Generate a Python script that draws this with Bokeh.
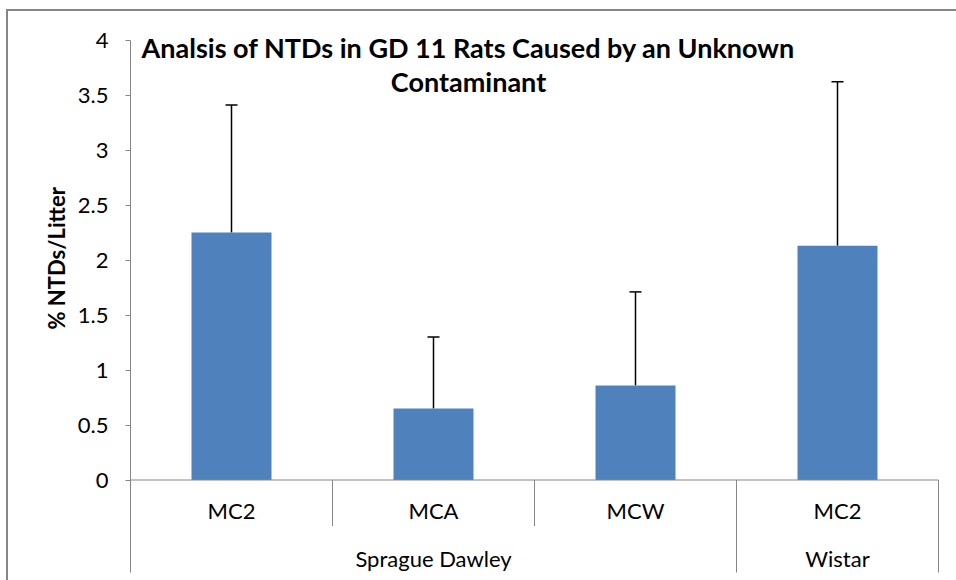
import math
from bokeh.plotting import figure
from bokeh.models import (Range1d, FixedTicker, Whisker, TeeHead, ColumnDataSource,
                          Label, Title)
from bokeh.core.properties import value
from bokeh.embed import file_html
from bokeh.resources import INLINE

# ---- data ----
strains = ["Sprague Dawley", "Sprague Dawley", "Sprague Dawley", "Wistar"]
groups = ["MC2", "MCA", "MCW", "MC2"]
means = [2.25, 0.65, 0.86, 2.13]
upper = [3.41, 1.30, 1.71, 3.62]
yticks = [0, 0.5, 1, 1.5, 2, 2.5, 3, 3.5, 4]
ytick_labels = ["0", "0.5", "1", "1.5", "2", "2.5", "3", "3.5", "4"]
title_lines = ["Analsis of NTDs in GD 11 Rats Caused by an Unknown", "Contaminant"]
y_label = "% NTDs/Litter"

# ---- layout constants ----
FONT = "Lato"
BAR = "#4F81BD"
GRAY = "#868686"
PX_PER_UNIT = 110.0          # vertical pixels per y unit
CAT_PX = 202.0               # horizontal pixels per category
W, H = 956, 580
LEFT, RIGHT, TOP, BOTTOM = 130, 16, 36, 8
FRAME_W, FRAME_H = W - LEFT - RIGHT, H - TOP - BOTTOM
ZERO_FROM_TOP = 443.5        # pixels from frame top to y = 0

n = len(groups)
xs = [i + 0.5 for i in range(n)]
y_top = ZERO_FROM_TOP / PX_PER_UNIT
y_bot = -(FRAME_H - ZERO_FROM_TOP) / PX_PER_UNIT

border_css = ("linear-gradient(#868686,#868686) 6px 9px / 2px 100% no-repeat, "
              "linear-gradient(#868686,#868686) 6px 9px / 100% 2px no-repeat, white")

p = figure(width=W, height=H, output_backend="svg", toolbar_location=None,
           x_range=Range1d(0, FRAME_W / CAT_PX), y_range=Range1d(y_bot, y_top),
           x_axis_location=None, min_border_left=LEFT, min_border_right=RIGHT,
           min_border_top=TOP, min_border_bottom=BOTTOM,
           styles={"background": border_css})
p.outline_line_color = None
p.grid.visible = False
p.background_fill_color = "white"
p.border_fill_color = None

ax = p.yaxis[0]
ax.ticker = FixedTicker(ticks=yticks)
ax.major_label_overrides = {t: s for t, s in zip(yticks, ytick_labels)}
ax.bounds = (y_bot, max(yticks))
ax.axis_line_color = GRAY
ax.axis_line_width = 1
ax.major_tick_line_color = GRAY
ax.major_tick_out = 5
ax.major_tick_in = 0
ax.minor_tick_line_color = None
ax.major_label_text_font = FONT
ax.major_label_text_font_size = "22px"
ax.major_label_text_color = "black"
ax.major_label_standoff = 17

# y axis title, placed so that it is centred on the 0..4 scale
p.add_layout(Title(text=y_label, align="left", text_font=FONT, text_font_size="22px",
                   text_font_style="bold", text_color="black",
                   offset=243, standoff=10), "left")

src = ColumnDataSource(dict(x=xs, top=means, upper=upper, group=groups))

# bars
p.vbar(x="x", top="top", bottom=0, width=0.396, source=src,
       fill_color=BAR, line_color=None)

# error bars (upper only)
p.add_layout(Whisker(base="x", lower="top", upper="upper", source=src,
                     line_color="black", line_width=1.5,
                     upper_head=TeeHead(size=12, line_color="black", line_width=1.5),
                     lower_head=None))

# category axis drawn Excel-style
p.line(x=[0, n], y=[0, 0], line_color=GRAY, line_width=1)
inner = [i for i in range(1, n) if strains[i] == strains[i - 1]]
outer = [i for i in range(1, n + 1) if i == n or strains[i] != strains[i - 1]]
p.ray(x=inner, y=[0] * len(inner), length=46, length_units="screen",
      angle=-math.pi / 2, line_color=GRAY, line_width=1)
p.ray(x=outer, y=[0] * len(outer), length=200, length_units="screen",
      angle=-math.pi / 2, line_color=GRAY, line_width=1)

p.text(x="x", y=0, text="group", source=src, y_offset=30,
       text_font=value(FONT), text_font_size="22px", text_align="center",
       text_baseline="middle", text_color="black")

# strain group labels centred under their categories
gnames, gcenters = [], []
for s in dict.fromkeys(strains):
    idx = [i for i, v in enumerate(strains) if v == s]
    gnames.append(s)
    gcenters.append((min(idx) + max(idx) + 1) / 2)
p.text(x=gcenters, y=[0] * len(gnames), text=gnames, y_offset=78,
       text_font=value(FONT), text_font_size="22px", text_align="center",
       text_baseline="middle", text_color="black")

# title inside the plot area
for k, line in enumerate(title_lines):
    p.add_layout(Label(x=338, y=525 - 34 * k, x_units="screen", y_units="screen",
                       text=line, text_font=FONT, text_font_size="27px",
                       text_font_style="bold", text_align="center",
                       text_baseline="middle", text_color="black"))

open("out.html", "w").write(file_html(p, INLINE))
